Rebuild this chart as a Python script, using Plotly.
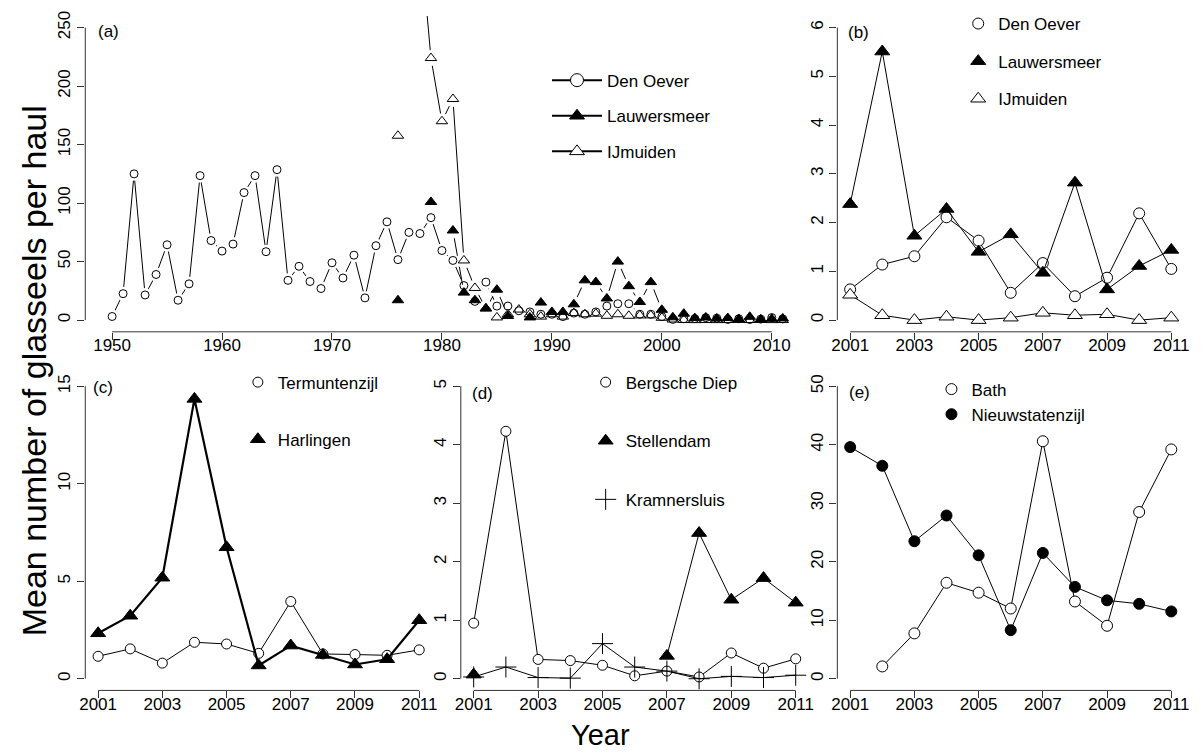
import plotly.graph_objects as go

FONT = "Liberation Sans, Arial, sans-serif"
W, H = 1203, 753

# ---------------- data ----------------
years_a = list(range(1950, 2012))
years_b = list(range(2001, 2012))

den_oever_1950_2000 = [3.1, 22.6, 125, 21.5, 39, 64.4, 17, 31, 123.5, 68,
                       59, 65, 109, 123.5, 58.5, 128.6, 34, 46, 33, 27,
                       49, 36, 55.5, 19, 63.6, 84, 51.7, 75, 74, 87.6,
                       59.5, 51, 29.5, 16, 32.5, 12, 12, 8, 7, 5,
                       5, 3, 6, 5, 7, 12, 14, 14, 5, 5, 3]
lauwersmeer_1950_2000 = [None] * 26 + [17, None, None, 101, None, 76.6, 23.5, 17, 10, 26,
                                       3.5, None, 2.3, 15, 7, 7, 13.5, 34, 32.5, 18.5,
                                       50, 29, 15.5, 32.5, 8.8]
ijmuiden_1950_2000 = [None] * 26 + [157.6, None, 330, 224, 170, 189, 51, 27.5, 10, 2.3,
                                    5, 9, 5, 3, 5, 3, 6, 5, 5.5, 3.7,
                                    5, 3.7, 4, 4, 2]

den_oever_b = [0.63, 1.14, 1.31, 2.11, 1.63, 0.56, 1.17, 0.49, 0.87, 2.19, 1.05]
lauwersmeer_b = [2.38, 5.51, 1.73, 2.28, 1.40, 1.76, 0.97, 2.82, 0.63, 1.11, 1.44]
ijmuiden_b = [0.52, 0.10, 0.0, 0.07, 0.0, 0.05, 0.15, 0.10, 0.12, 0.0, 0.05]

termuntenzijl = [1.15, 1.53, 0.80, 1.87, 1.78, 1.30, 3.96, 1.27, 1.24, 1.20, 1.48]
harlingen = [2.33, 3.23, 5.18, 14.35, 6.74, 0.68, 1.70, 1.22, 0.73, 1.00, 3.00]

bergsche_diep = [0.95, 4.23, 0.33, 0.31, 0.23, 0.05, 0.13, 0.03, 0.44, 0.18, 0.34]
stellendam = [0.07, None, None, None, None, None, 0.39, 2.49, 1.35, 1.72, 1.30]
kramnersluis = [0.03, 0.20, 0.02, 0.01, 0.60, 0.20, 0.13, 0.0, 0.04, 0.02, 0.06]

bath = [None, 2.1, 7.75, 16.4, 14.7, 12.0, 40.6, 13.2, 9.05, 28.5, 39.2]
nieuwstatenzijl = [39.6, 36.4, 23.5, 27.9, 21.1, 8.3, 21.5, 15.7, 13.4, 12.8, 11.5]

den_oever_a = den_oever_1950_2000 + den_oever_b
lauwersmeer_a = lauwersmeer_1950_2000 + lauwersmeer_b
ijmuiden_a = ijmuiden_1950_2000 + ijmuiden_b

xticks_a = [1950, 1960, 1970, 1980, 1990, 2000, 2010]
yticks_a = [0, 50, 100, 150, 200, 250]
xticks_b = [2001, 2003, 2005, 2007, 2009, 2011]
yticks_b = [0, 1, 2, 3, 4, 5, 6]
yticks_c = [0, 5, 10, 15]
yticks_d = [0, 1, 2, 3, 4, 5]
yticks_e = [0, 10, 20, 30, 40, 50]

# ---------------- helpers ----------------
def px_x(p):
    return p / W


def px_y(p):
    return 1 - p / H


AXC = "#333333"

fig = go.Figure()

# panel geometry (pixels)
dom = {
    "a": ((80, 811), (11, 329)),
    "b": ((839, 1189), (11, 329)),
    "c": ((80, 430), (372, 690)),
    "d": ((459, 810), (372, 690)),
    "e": ((839, 1189), (372, 690)),
}
axnames = {"a": ("x", "y"), "b": ("x2", "y2"), "c": ("x3", "y3"), "d": ("x4", "y4"), "e": ("x5", "y5")}


def mk(symbol, size, fill="white", lw=1):
    return dict(symbol=symbol, size=size, color=fill, line=dict(color="black", width=lw))


# ---------------- panel (a): lines with gaps (type "b") ----------------
series_a = [
    ("Den Oever", den_oever_a, "circle-open", 8, 14),
    ("Lauwersmeer", lauwersmeer_a, "triangle-up", 10, 16),
    ("IJmuiden", ijmuiden_a, "triangle-up-open", 10, 16),
]
for name, vals, sym, sz, halo in series_a:
    fig.add_trace(go.Scatter(x=years_a, y=vals, mode="lines", line=dict(color="black", width=1),
                             xaxis="x", yaxis="y", showlegend=False, hoverinfo="skip"))
    fig.add_trace(go.Scatter(x=years_a, y=vals, mode="markers",
                             marker=dict(symbol="circle", size=halo, color="white", line=dict(width=0)),
                             xaxis="x", yaxis="y", showlegend=False, hoverinfo="skip"))
for name, vals, sym, sz, halo in series_a:
    fig.add_trace(go.Scatter(x=years_a, y=vals, mode="markers",
                             marker=dict(symbol=sym, size=sz, color="black", line=dict(color="black", width=1)),
                             xaxis="x", yaxis="y", showlegend=False, name=name))
# legend entries (a)
for name, sym in [("Den Oever", "circle"), ("Lauwersmeer", "triangle-up"), ("IJmuiden", "triangle-up")]:
    fill = "black" if name == "Lauwersmeer" else "white"
    fig.add_trace(go.Scatter(x=[None], y=[None], mode="lines+markers", name=name, legendgroup="a" + name,
                             line=dict(color="black", width=2), marker=mk(sym, 13, fill),
                             xaxis="x", yaxis="y", legend="legend"))

# ---------------- panel (b) ----------------
for name, vals, sym, fill in [("Den Oever", den_oever_b, "circle", "white"),
                              ("Lauwersmeer", lauwersmeer_b, "triangle-up", "black"),
                              ("IJmuiden", ijmuiden_b, "triangle-up", "white")]:
    fig.add_trace(go.Scatter(x=years_b, y=vals, mode="lines+markers", line=dict(color="black", width=1),
                             marker=mk(sym, 11 if sym == "circle" else 13, fill),
                             xaxis="x2", yaxis="y2", showlegend=False, name=name))
    fig.add_trace(go.Scatter(x=[None], y=[None], mode="markers", name=name, legendgroup="b" + name,
                             marker=mk(sym, 11 if sym == "circle" else 13, fill),
                             xaxis="x2", yaxis="y2", legend="legend2"))

# ---------------- panel (c) ----------------
for name, vals, sym, fill, lw, sz in [("Termuntenzijl", termuntenzijl, "circle", "white", 1, 10),
                                       ("Harlingen", harlingen, "triangle-up", "black", 2.2, 13)]:
    fig.add_trace(go.Scatter(x=years_b, y=vals, mode="lines+markers", line=dict(color="black", width=lw),
                             marker=mk(sym, sz, fill), xaxis="x3", yaxis="y3", showlegend=False, name=name))
    fig.add_trace(go.Scatter(x=[None], y=[None], mode="markers", name=name, legendgroup="c" + name,
                             marker=mk(sym, sz, fill), xaxis="x3", yaxis="y3", legend="legend3"))

# ---------------- panel (d) ----------------
for name, vals, sym, fill, sz in [("Bergsche Diep", bergsche_diep, "circle", "white", 10),
                                   ("Stellendam", stellendam, "triangle-up", "black", 13),
                                   ("Kramnersluis", kramnersluis, "cross-thin", "black", 15)]:
    fig.add_trace(go.Scatter(x=years_b, y=vals, mode="lines+markers", line=dict(color="black", width=1),
                             marker=mk(sym, sz, fill), xaxis="x4", yaxis="y4", showlegend=False, name=name))
    fig.add_trace(go.Scatter(x=[None], y=[None], mode="markers", name=name, legendgroup="d" + name,
                             marker=mk(sym, sz, fill), xaxis="x4", yaxis="y4", legend="legend4"))

# ---------------- panel (e) ----------------
for name, vals, sym, fill in [("Bath", bath, "circle", "white"),
                              ("Nieuwstatenzijl", nieuwstatenzijl, "circle", "black")]:
    fig.add_trace(go.Scatter(x=years_b, y=vals, mode="lines+markers", line=dict(color="black", width=1),
                             marker=mk(sym, 11, fill), xaxis="x5", yaxis="y5", showlegend=False, name=name))
    fig.add_trace(go.Scatter(x=[None], y=[None], mode="markers", name=name, legendgroup="e" + name,
                             marker=mk(sym, 11, fill), xaxis="x5", yaxis="y5", legend="legend5"))

# ---------------- axes ----------------
ranges = {
    "a": ([1947.56, 2013.44], [-10, 260], xticks_a, yticks_a),
    "b": ([2000.6, 2011.4], [-0.24, 6.24], xticks_b, yticks_b),
    "c": ([2000.6, 2011.4], [-0.6, 15.6], xticks_b, yticks_c),
    "d": ([2000.6, 2011.4], [-0.2, 5.2], xticks_b, yticks_d),
    "e": ([2000.6, 2011.4], [-2, 52], xticks_b, yticks_e),
}
layout = {}
shapes = []
tickfont = dict(family=FONT, size=17, color="black")
for key, ((x0, x1), (y0, y1)) in dom.items():
    xn, yn = axnames[key]
    xr, yr, xt, yt = ranges[key]
    xkey = "xaxis" + xn[1:]
    ykey = "yaxis" + yn[1:]
    layout[xkey] = dict(domain=[px_x(x0), px_x(x1)], range=xr, tickvals=xt, ticks="outside", ticklen=7,
                        tickwidth=1, tickcolor=AXC, showline=False, showgrid=False, zeroline=False,
                        tickfont=tickfont, anchor=yn, fixedrange=True, ticklabelstandoff=-9)
    layout[ykey] = dict(domain=[px_y(y1), px_y(y0)], range=yr, tickvals=yt, ticks="outside", ticklen=7,
                        tickwidth=1, tickcolor=AXC, showline=False, showgrid=False, zeroline=False,
                        tickfont=tickfont, anchor=xn, tickangle=-90, fixedrange=True)
    shapes.append(dict(type="line", xref=xn, yref=yn + " domain", x0=xt[0], x1=xt[-1], y0=0, y1=0,
                       line=dict(color=AXC, width=1)))
    shapes.append(dict(type="line", xref=xn + " domain", yref=yn, x0=0, x1=0, y0=yt[0], y1=yt[-1],
                       line=dict(color=AXC, width=1)))

legfont = dict(family=FONT, size=17, color="black")


def leg(xp, yp, gap, iw=30):
    return dict(x=px_x(xp), y=px_y(yp), xanchor="left", yanchor="top", bgcolor="rgba(0,0,0,0)",
                borderwidth=0, font=legfont, tracegroupgap=gap, itemwidth=iw, traceorder="grouped",
                itemclick=False, itemdoubleclick=False)


def label(txt, xp, yp):
    return dict(text=txt, x=px_x(xp), y=px_y(yp), xref="paper", yref="paper", xanchor="left",
                yanchor="middle", showarrow=False, font=dict(family=FONT, size=17, color="black"))


annotations = [
    label("(a)", 91, 27),
    label("(b)", 848, 28),
    label("(c)", 86, 385),
    label("(d)", 468, 391),
    label("(e)", 849, 390),
    dict(text="Year", x=px_x(600), y=px_y(735), xref="paper", yref="paper", xanchor="center",
         yanchor="middle", showarrow=False, font=dict(family=FONT, size=29, color="black")),
    dict(text="Mean number of glasseels per haul", x=px_x(28), y=px_y(368), xref="paper", yref="paper",
         xanchor="center", yanchor="middle", textangle=-90, showarrow=False,
         font=dict(family=FONT, size=34, color="black")),
]

fig.update_layout(
    width=W, height=H, margin=dict(l=0, r=0, t=0, b=0, pad=0),
    paper_bgcolor="white", plot_bgcolor="white",
    font=dict(family=FONT, color="black"),
    shapes=shapes, annotations=annotations,
    legend=leg(546, 58, 10.5, 50),
    legend2=leg(961, 1, 12.5),
    legend3=leg(234, 362, 32),
    legend4=leg(585, 362, 33.5),
    legend5=leg(934, 369, 0),
    **layout,
)

fig.write_html("out.html", config={"displayModeBar": False},
               post_script="document.body.style.margin='0';document.body.style.overflow='hidden';")
